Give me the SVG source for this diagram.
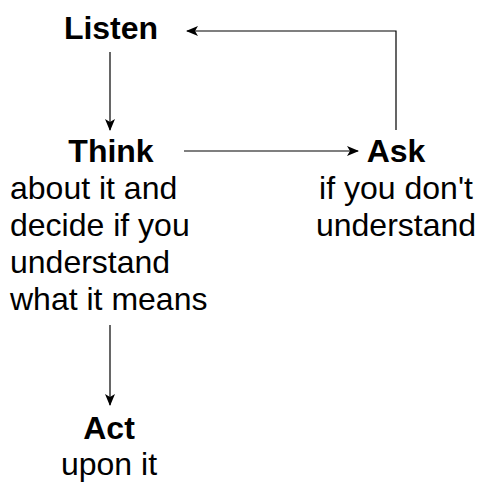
<svg xmlns="http://www.w3.org/2000/svg" width="480" height="482" viewBox="0 0 480 482">
<style>
.b{font-family:"Liberation Sans",Arial,sans-serif;font-weight:bold;font-size:32px;fill:#000;text-anchor:middle}
.r{font-family:"Liberation Sans",Arial,sans-serif;font-size:32px;fill:#000}
.c{text-anchor:middle}
.e{fill:none;stroke:#000;stroke-width:1.2}
</style>
<defs>
<marker id="ah" viewBox="0 0 12 10" refX="11" refY="5" markerWidth="12" markerHeight="10" markerUnits="userSpaceOnUse" orient="auto">
<path d="M0,0 L12,5 L0,10 L3,5 Z" fill="#000"/>
</marker>
</defs>
<g id="connectors">
<path class="e" d="M110,52 V130" marker-end="url(#ah)"/>
<path class="e" d="M184,151 H358" marker-end="url(#ah)"/>
<path class="e" d="M396,130 V31 H187" marker-end="url(#ah)"/>
<path class="e" d="M110,325 V405" marker-end="url(#ah)"/>
</g>
<g id="listen"><text class="b" x="111" y="39">Listen</text></g>
<g id="think">
<text class="b" x="111" y="162">Think</text>
<text class="r" x="10" y="199">about it and</text>
<text class="r" x="10" y="236">decide if you</text>
<text class="r" x="10" y="273">understand</text>
<text class="r" x="10" y="310">what it means</text>
</g>
<g id="ask">
<text class="b" x="396" y="162">Ask</text>
<text class="r c" x="396" y="199">if you don't</text>
<text class="r c" x="396" y="236">understand</text>
</g>
<g id="act">
<text class="b" x="109" y="439">Act</text>
<text class="r c" x="109" y="475">upon it</text>
</g>
</svg>
